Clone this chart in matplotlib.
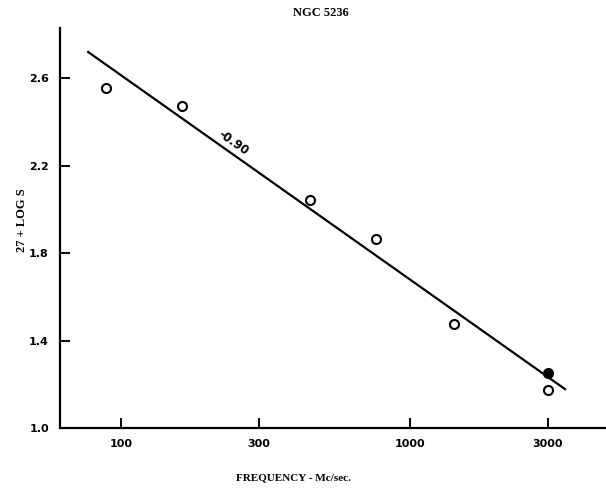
import numpy as np
import matplotlib
matplotlib.use("Agg")
import matplotlib.pyplot as plt
from matplotlib.ticker import FixedLocator, FixedFormatter, NullLocator

# measured points (Mc/sec, 27 + log S)
freq_open = [89, 163, 451, 763, 1420, 3000]
logs_open = [2.554, 2.472, 2.042, 1.864, 1.475, 1.174]
freq_filled = [3000]
logs_filled = [1.251]

# fitted spectral line, slope -0.90
line_freq = [77, 3440]
line_logs = [2.72, 1.178]
slope_label = "-0.90"

xticks = [100, 300, 1000, 3000]
xtick_labels = ["100", "300", "1000", "3000"]
yticks = [1.0, 1.4, 1.8, 2.2, 2.6]
ytick_labels = ["1.0", "1.4", "1.8", "2.2", "2.6"]

fig = plt.figure(figsize=(6.06, 4.92), dpi=100)
ax = fig.add_axes([60 / 606, 64 / 492, 546 / 606, 400 / 492])

ax.plot(line_freq, line_logs, color="black", lw=1.6)
ax.plot(freq_open, logs_open, "o", ms=6.5, mfc="white", mec="black", mew=1.5)
ax.plot(freq_filled, logs_filled, "o", ms=7, mfc="black", mec="black")

ax.text(245, 2.305, slope_label, rotation=-35, rotation_mode="anchor",
        ha="center", va="center", fontsize=8.5, fontweight="bold")

ax.set_xscale("log")
ax.set_xlim(61.5, 4770)
ax.set_ylim(1.0, 2.83)

ax.xaxis.set_major_locator(FixedLocator(xticks))
ax.xaxis.set_major_formatter(FixedFormatter(xtick_labels))
ax.xaxis.set_minor_locator(NullLocator())
ax.set_yticks(yticks)
ax.set_yticklabels(ytick_labels)

for side in ["top", "right"]:
    ax.spines[side].set_visible(False)
for side in ["left", "bottom"]:
    ax.spines[side].set_linewidth(1.6)

ax.tick_params(direction="in", length=7, width=1.4, labelsize=8, pad=8)
for lab in ax.get_xticklabels() + ax.get_yticklabels():
    lab.set_fontweight("bold")

fig.text(321 / 606, 1 - 13 / 492, "NGC 5236", ha="center", va="center",
         family="Liberation Serif", fontweight="bold", fontsize=9)
fig.text(293 / 606, 1 - 478 / 492, "FREQUENCY - Mc/sec.", ha="center", va="center",
         family="Liberation Serif", fontweight="bold", fontsize=8)
fig.text(22 / 606, 1 - 220 / 492, "27 + LOG S", ha="center", va="center",
         rotation=90, family="Liberation Serif", fontweight="bold", fontsize=9)

fig.savefig("out.png", dpi=100)
